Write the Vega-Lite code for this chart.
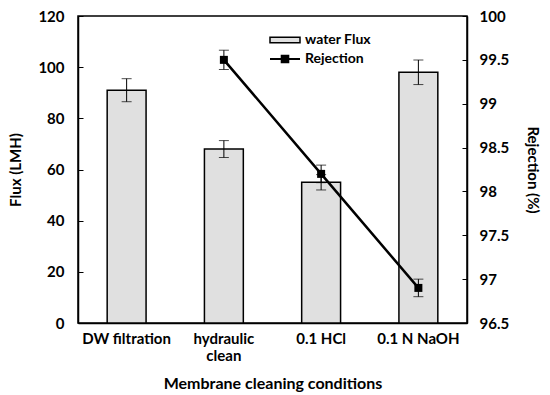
{
  "$schema": "https://vega.github.io/schema/vega-lite/v6.json",
  "autosize": {"type": "none"},
  "width": 389,
  "height": 307,
  "padding": {"left": 78, "top": 16, "right": 83, "bottom": 72},
  "config": {
    "font": "Lato",
    "view": {"stroke": "black", "strokeWidth": 1.5},
    "axis": {"labelFont": "Lato", "labelFontWeight": "bold", "labelFontSize": 15, "labelColor": "black", "titleFont": "Lato", "titleFontWeight": "bold", "titleFontSize": 15, "titleColor": "black", "domainColor": "black", "tickColor": "black", "grid": false},
    "legend": {"labelFont": "Lato", "labelFontWeight": "bold", "labelFontSize": 14, "labelColor": "black"}
  },
  "data": {"values": [
    {"cond": "DW filtration", "flux": 91, "fluxLo": 86.5, "fluxHi": 95.5, "rej": null, "rejLo": null, "rejHi": null},
    {"cond": "hydraulic clean", "flux": 68, "fluxLo": 64.7, "fluxHi": 71.3, "rej": 99.5, "rejLo": 99.39, "rejHi": 99.61},
    {"cond": "0.1 HCl", "flux": 55, "fluxLo": 52, "fluxHi": 58, "rej": 98.2, "rejLo": 98.1, "rejHi": 98.3},
    {"cond": "0.1 N NaOH", "flux": 98, "fluxLo": 93.2, "fluxHi": 102.8, "rej": 96.9, "rejLo": 96.8, "rejHi": 97.0}
  ]},
  "encoding": {
    "x": {"field": "cond", "type": "nominal", "sort": null,
      "scale": {"paddingInner": 0.6, "paddingOuter": 0.3},
      "axis": {"title": "Membrane cleaning conditions", "labelAngle": 0, "ticks": false, "labelPadding": 8, "titlePadding": 12, "titleFontSize": 16, "domainWidth": 1.5,
        "labelExpr": "datum.value == 'hydraulic clean' ? ['hydraulic', 'clean'] : datum.value"}}
  },
  "layer": [
    {
      "layer": [
        {
          "mark": {"type": "bar", "stroke": "black", "strokeWidth": 1.5},
          "encoding": {
            "y": {"field": "flux", "type": "quantitative", "scale": {"domain": [0, 120]}, "title": "Flux (LMH)",
              "axis": {"values": [0,20,40,60,80,100,120], "tickSize": -5, "labelPadding": 19, "titlePadding": 14, "domainWidth": 1.5}},
            "fill": {"datum": "water Flux", "type": "nominal", "scale": {"range": ["#e0e0e0"]},
              "legend": {"title": null, "orient": "none", "legendX": 191, "legendY": 8, "symbolType": "M-1,-0.18L1,-0.18L1,0.18L-1,0.18Z", "symbolSize": 900, "symbolStrokeColor": "black", "symbolStrokeWidth": 1.5}}
          }
        },
        {
          "mark": {"type": "errorbar", "ticks": {"size": 10, "color": "black"}, "rule": {"color": "black", "strokeWidth": 1}},
          "encoding": {
            "y": {"field": "fluxLo", "type": "quantitative", "title": "Flux (LMH)"},
            "y2": {"field": "fluxHi"}
          }
        }
      ]
    },
    {
      "layer": [
        {
          "transform": [{"filter": "datum.rej != null"}],
          "mark": {"type": "line", "strokeWidth": 2.5, "color": "black"},
          "encoding": {
            "y": {"field": "rej", "type": "quantitative", "scale": {"domain": [96.5, 100]}, "title": "Rejection (%)",
              "axis": {"orient": "right", "format": ".1~f", "values": [96.5,97,97.5,98,98.5,99,99.5,100], "tickSize": -5, "labelPadding": 17, "titlePadding": 16, "domainWidth": 1.5}},
            "stroke": {"datum": "Rejection", "type": "nominal", "scale": {"range": ["black"]},
              "legend": {"title": null, "orient": "none", "legendX": 191, "legendY": 27, "symbolType": "M-1,0L1,0M-0.22,-0.22L0.22,-0.22L0.22,0.22L-0.22,0.22Z", "symbolSize": 900, "symbolFillColor": "black", "symbolStrokeWidth": 2}}
          }
        },
        {
          "transform": [{"filter": "datum.rej != null"}],
          "mark": {"type": "square", "size": 64, "color": "black", "opacity": 1},
          "encoding": {"y": {"field": "rej", "type": "quantitative", "title": "Rejection (%)"}}
        },
        {
          "transform": [{"filter": "datum.rej != null"}],
          "mark": {"type": "errorbar", "ticks": {"size": 10, "color": "black"}, "rule": {"color": "black", "strokeWidth": 1}},
          "encoding": {
            "y": {"field": "rejLo", "type": "quantitative", "title": "Rejection (%)"},
            "y2": {"field": "rejHi"}
          }
        }
      ]
    }
  ],
  "resolve": {"scale": {"y": "independent", "fill": "independent", "stroke": "independent"}}
}
